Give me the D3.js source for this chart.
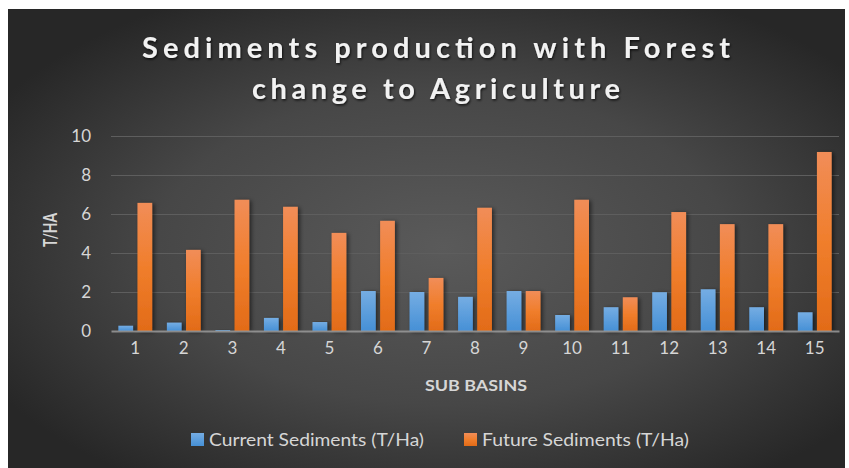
<!DOCTYPE html>
<html>
<head>
<meta charset="utf-8">
<script src="https://cdn.jsdelivr.net/npm/d3@7/dist/d3.min.js"></script>
<style>
  html, body { margin: 0; padding: 0; background: #ffffff; }
  svg { display: block; }
  text { font-family: Lato, "Open Sans", sans-serif; }
</style>
</head>
<body>
<svg id="chart" width="849" height="468"></svg>
<script>
// Sub-basin sediment yields (T/Ha)
const subBasins = ["1","2","3","4","5","6","7","8","9","10","11","12","13","14","15"];
const currentSediments = [0.27, 0.43, 0.05, 0.67, 0.46, 2.05, 2.0, 1.75, 2.05, 0.82, 1.22, 1.99, 2.14, 1.22, 0.96];
const futureSediments  = [6.57, 4.16, 6.73, 6.37, 5.03, 5.65, 2.72, 6.32, 2.05, 6.73, 1.73, 6.1, 5.48, 5.48, 9.18];
const seriesNames = ["Current Sediments (T/Ha)", "Future Sediments (T/Ha)"];
const yTicks = [0, 2, 4, 6, 8, 10];
const titleLines = ["Sediments production with Forest", "change to Agriculture"];

const svg = d3.select("#chart");
const defs = svg.append("defs");

// Background: dark radial vignette
const bg = defs.append("radialGradient").attr("id", "bgGrad")
  .attr("cx", "52%").attr("cy", "52%").attr("r", "62%");
bg.append("stop").attr("offset", "0%").attr("stop-color", "#5a5a5a");
bg.append("stop").attr("offset", "55%").attr("stop-color", "#474747");
bg.append("stop").attr("offset", "100%").attr("stop-color", "#272727");

// Bar fills: lighter at top, deeper at bottom
const blueGrad = defs.append("linearGradient").attr("id", "blueGrad")
  .attr("x1", 0).attr("y1", 0).attr("x2", 0).attr("y2", 1);
blueGrad.append("stop").attr("offset", "0%").attr("stop-color", "#75ade3");
blueGrad.append("stop").attr("offset", "100%").attr("stop-color", "#4690d6");
const orangeGrad = defs.append("linearGradient").attr("id", "orangeGrad")
  .attr("x1", 0).attr("y1", 0).attr("x2", 0).attr("y2", 1);
orangeGrad.append("stop").attr("offset", "0%").attr("stop-color", "#f18d58");
orangeGrad.append("stop").attr("offset", "50%").attr("stop-color", "#f07e2c");
orangeGrad.append("stop").attr("offset", "100%").attr("stop-color", "#e26b18");

const shadow = defs.append("filter").attr("id", "barShadow")
  .attr("x", "-30%").attr("y", "-10%").attr("width", "170%").attr("height", "130%");
shadow.append("feDropShadow").attr("dx", 2).attr("dy", 1).attr("stdDeviation", 2)
  .attr("flood-color", "#000").attr("flood-opacity", 0.55);

const textShadow = defs.append("filter").attr("id", "textShadow")
  .attr("x", "-10%").attr("y", "-30%").attr("width", "120%").attr("height", "160%");
textShadow.append("feDropShadow").attr("dx", 1).attr("dy", 1.5).attr("stdDeviation", 1.2)
  .attr("flood-color", "#000").attr("flood-opacity", 0.7);

svg.append("rect").attr("x", 8).attr("y", 9).attr("width", 837).attr("height", 459)
  .attr("fill", "url(#bgGrad)");

// Plot area
const plot = { left: 111, right: 839, top: 136, bottom: 331 };

const x0 = d3.scaleBand().domain(subBasins).range([plot.left, plot.right]);
const groupWidth = x0.bandwidth() * 2.3 / 3.3;
const x1 = d3.scaleBand().domain(seriesNames).range([0, groupWidth]).paddingInner(0.3 / 1.3);
const groupOffset = (x0.bandwidth() - groupWidth) / 2;
const y = d3.scaleLinear().domain([0, 10]).range([plot.bottom, plot.top]);

// Gridlines + y labels via axis
const yAxis = svg.append("g").attr("transform", `translate(${plot.left},0)`)
  .call(d3.axisLeft(y).tickValues(yTicks).tickSize(-(plot.right - plot.left)).tickPadding(20));
yAxis.select(".domain").remove();
yAxis.selectAll(".tick line").attr("stroke", "#5e5e5e").attr("stroke-width", 1.2);
yAxis.selectAll(".tick text").attr("fill", "#d6d6d6").attr("font-size", 17)
  .style("font-family", "Lato, sans-serif");
yAxis.selectAll(".tick").filter(d => d === 0).select("line").remove();

// Bars
const rows = subBasins.map((s, i) => ({ s, vals: [currentSediments[i], futureSediments[i]] }));
const fills = ["url(#blueGrad)", "url(#orangeGrad)"];
const groups = svg.append("g").selectAll("g").data(rows).join("g")
  .attr("transform", d => `translate(${x0(d.s) + groupOffset},0)`);
groups.selectAll("rect")
  .data(d => d.vals.map((v, k) => ({ v, k })))
  .join("rect")
  .attr("x", d => x1(seriesNames[d.k]))
  .attr("width", x1.bandwidth())
  .attr("y", d => y(d.v))
  .attr("height", d => y(0) - y(d.v))
  .attr("fill", d => fills[d.k])
  .attr("filter", "url(#barShadow)");

// Category axis
const xAxis = svg.append("g").attr("transform", `translate(0,${plot.bottom})`)
  .call(d3.axisBottom(x0).tickSize(0).tickPadding(11));
xAxis.select(".domain").attr("stroke", "#9a9a9a").attr("stroke-width", 2).attr("stroke-opacity", 0.85);
xAxis.selectAll(".tick text").attr("fill", "#d6d6d6").attr("font-size", 17)
  .style("font-family", "Lato, sans-serif");

// Axis titles
svg.append("text").attr("x", 476).attr("y", 391).attr("text-anchor", "middle")
  .attr("fill", "#d6d6d6").attr("font-size", 16).attr("font-weight", "bold")
  .attr("textLength", 102).attr("lengthAdjust", "spacingAndGlyphs")
  .text("SUB BASINS");
svg.append("text").attr("transform", "translate(57,230) rotate(-90)").attr("text-anchor", "middle")
  .attr("fill", "#d6d6d6").attr("font-size", 19).attr("font-weight", "bold")
  .attr("textLength", 34).attr("lengthAdjust", "spacingAndGlyphs")
  .text("T/HA");

// Chart title
const titleWidths = [588, 368];
titleLines.forEach((t, i) => {
  svg.append("text").attr("x", 436).attr("y", 58 + i * 41).attr("text-anchor", "middle")
    .attr("fill", "#f2f2f2").attr("font-size", 29).attr("font-weight", "bold")
    .attr("textLength", titleWidths[i]).attr("lengthAdjust", "spacing")
    .attr("filter", "url(#textShadow)")
    .text(t);
});

// Legend
const legendItems = [
  { name: seriesNames[0], fill: "url(#blueGrad)", x: 191, w: 215 },
  { name: seriesNames[1], fill: "url(#orangeGrad)", x: 464, w: 207 }
];
const legend = svg.append("g");
legendItems.forEach(it => {
  legend.append("rect").attr("x", it.x).attr("y", 433).attr("width", 13).attr("height", 13)
    .attr("fill", it.fill);
  legend.append("text").attr("x", it.x + 18).attr("y", 446)
    .attr("fill", "#d6d6d6").attr("font-size", 17)
    .attr("textLength", it.w).attr("lengthAdjust", "spacingAndGlyphs")
    .text(it.name);
});
</script>
</body>
</html>
